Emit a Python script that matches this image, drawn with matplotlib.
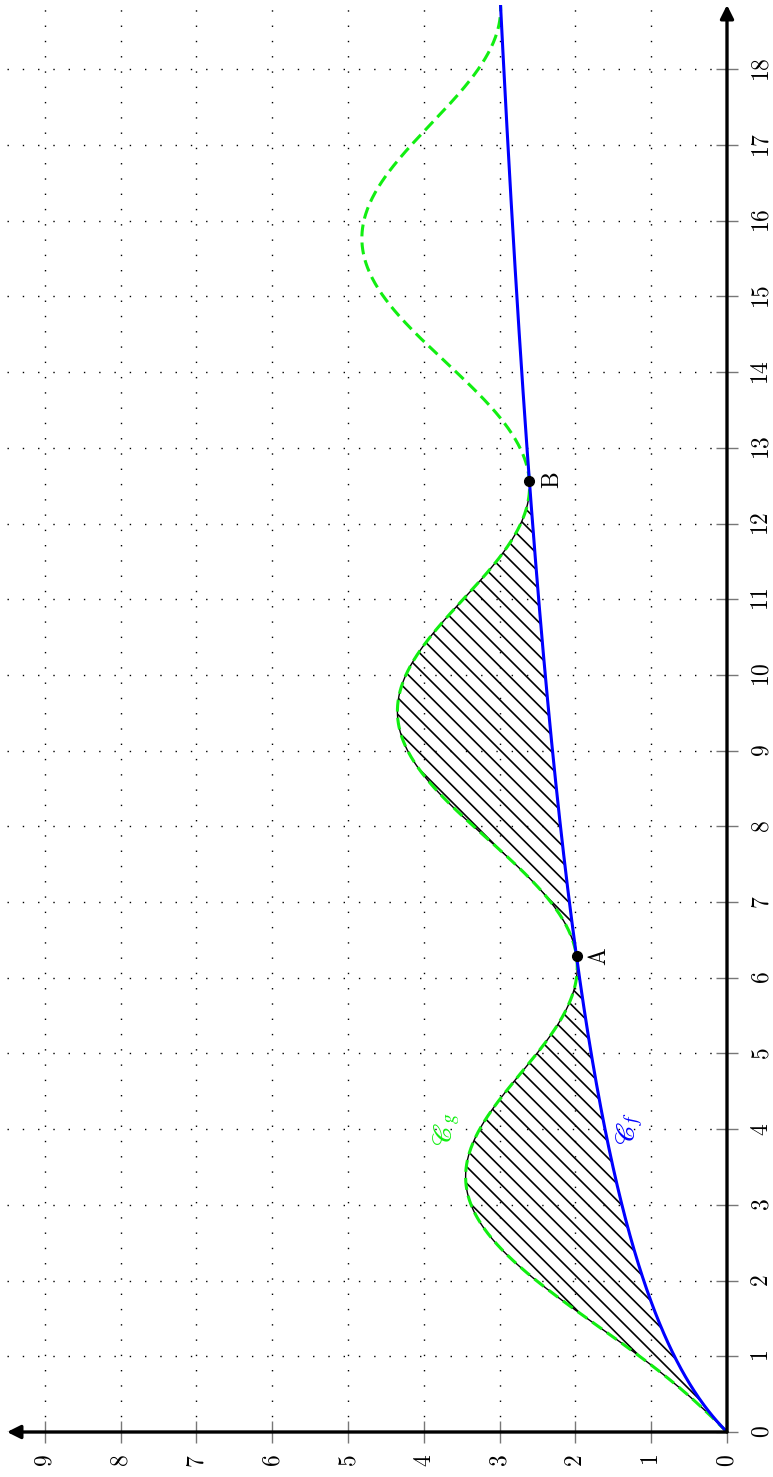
import numpy as np
import matplotlib
matplotlib.use('Agg')
import matplotlib.pyplot as plt
from matplotlib.ticker import FuncFormatter

plt.rcParams['mathtext.fontset'] = 'cm'
plt.rcParams['hatch.linewidth'] = 1.2

# data: Cf is y = ln(1+x), Cg is y = ln(1+x) + 1 - cos(x), for x in [0, 6pi]
x = np.linspace(0, 6 * np.pi, 800)
f = np.log1p(x)
g = f + 1 - np.cos(x)
hatch_end = 4 * np.pi
points = {'A': 2 * np.pi, 'B': 4 * np.pi}
x_ticks = list(range(0, 19))
y_ticks = list(range(0, 10))

fig = plt.figure(figsize=(7.73, 14.77), dpi=100)
ax = fig.add_axes([7 / 773, 45 / 1477, 720 / 773, 1427 / 1477])

# picture is the usual landscape plot turned a quarter turn:
# y values run right -> left, x values run bottom -> top
ax.set_xlim(9.5, 0)
ax.set_ylim(0, 18.85)

ax.fill_betweenx(x, f, g, where=x <= hatch_end + 1e-9, facecolor='none',
                 edgecolor='k', hatch='\\\\', linewidth=1.0, zorder=2)
ax.plot(f, x, color='#0000ff', lw=2.2, zorder=4)
ax.plot(g, x, color='#11ee11', lw=2.2, dashes=(3.9, 2.0), zorder=3)

for name, px in points.items():
    py = np.log1p(px)
    ax.plot(py, px, 'o', color='k', ms=7, zorder=5)
    ax.annotate(r'$\mathrm{%s}$' % name, xy=(py, px), xytext=(16, 0),
                textcoords='offset points', ha='center', va='center',
                rotation=90, fontsize=17)

ax.text(3.7, 4.0, r'$\mathscr{C}_g$', color='#11ee11', rotation=90,
        ha='center', va='center', fontsize=20, math_fontfamily='stix')
ax.text(1.28, 4.0, r'$\mathscr{C}_f$', color='#0000ff', rotation=90,
        ha='center', va='center', fontsize=20, math_fontfamily='stix')

# axes
for s in ['left', 'top', 'right', 'bottom']:
    ax.spines[s].set_visible(False)
ax.annotate('', xy=(9.5, 0), xytext=(0, 0),
            arrowprops=dict(arrowstyle='-|>', lw=2.4, color='k',
                            mutation_scale=20, shrinkA=0, shrinkB=0),
            annotation_clip=False, zorder=6)
ax.annotate('', xy=(0, 18.85), xytext=(0, 0),
            arrowprops=dict(arrowstyle='-|>', lw=2.4, color='k',
                            mutation_scale=20, shrinkA=0, shrinkB=0),
            annotation_clip=False, zorder=6)

ax.yaxis.tick_right()
ax.set_xticks(y_ticks)
ax.set_yticks(x_ticks)
fmt = FuncFormatter(lambda v, p: '$%d$' % int(round(v)))
ax.xaxis.set_major_formatter(fmt)
ax.yaxis.set_major_formatter(fmt)
ax.tick_params(axis='both', direction='inout', length=16, width=1.0,
               color='#777777', labelsize=17, labelrotation=90, pad=8)
for lbl in ax.get_yticklabels():
    lbl.set_va('center')
    lbl.set_ha('left')

ax.grid(True, color='k', lw=1.0, linestyle=(0, (1, 10)))
ax.set_axisbelow(True)

fig.savefig('out.png', dpi=100)
